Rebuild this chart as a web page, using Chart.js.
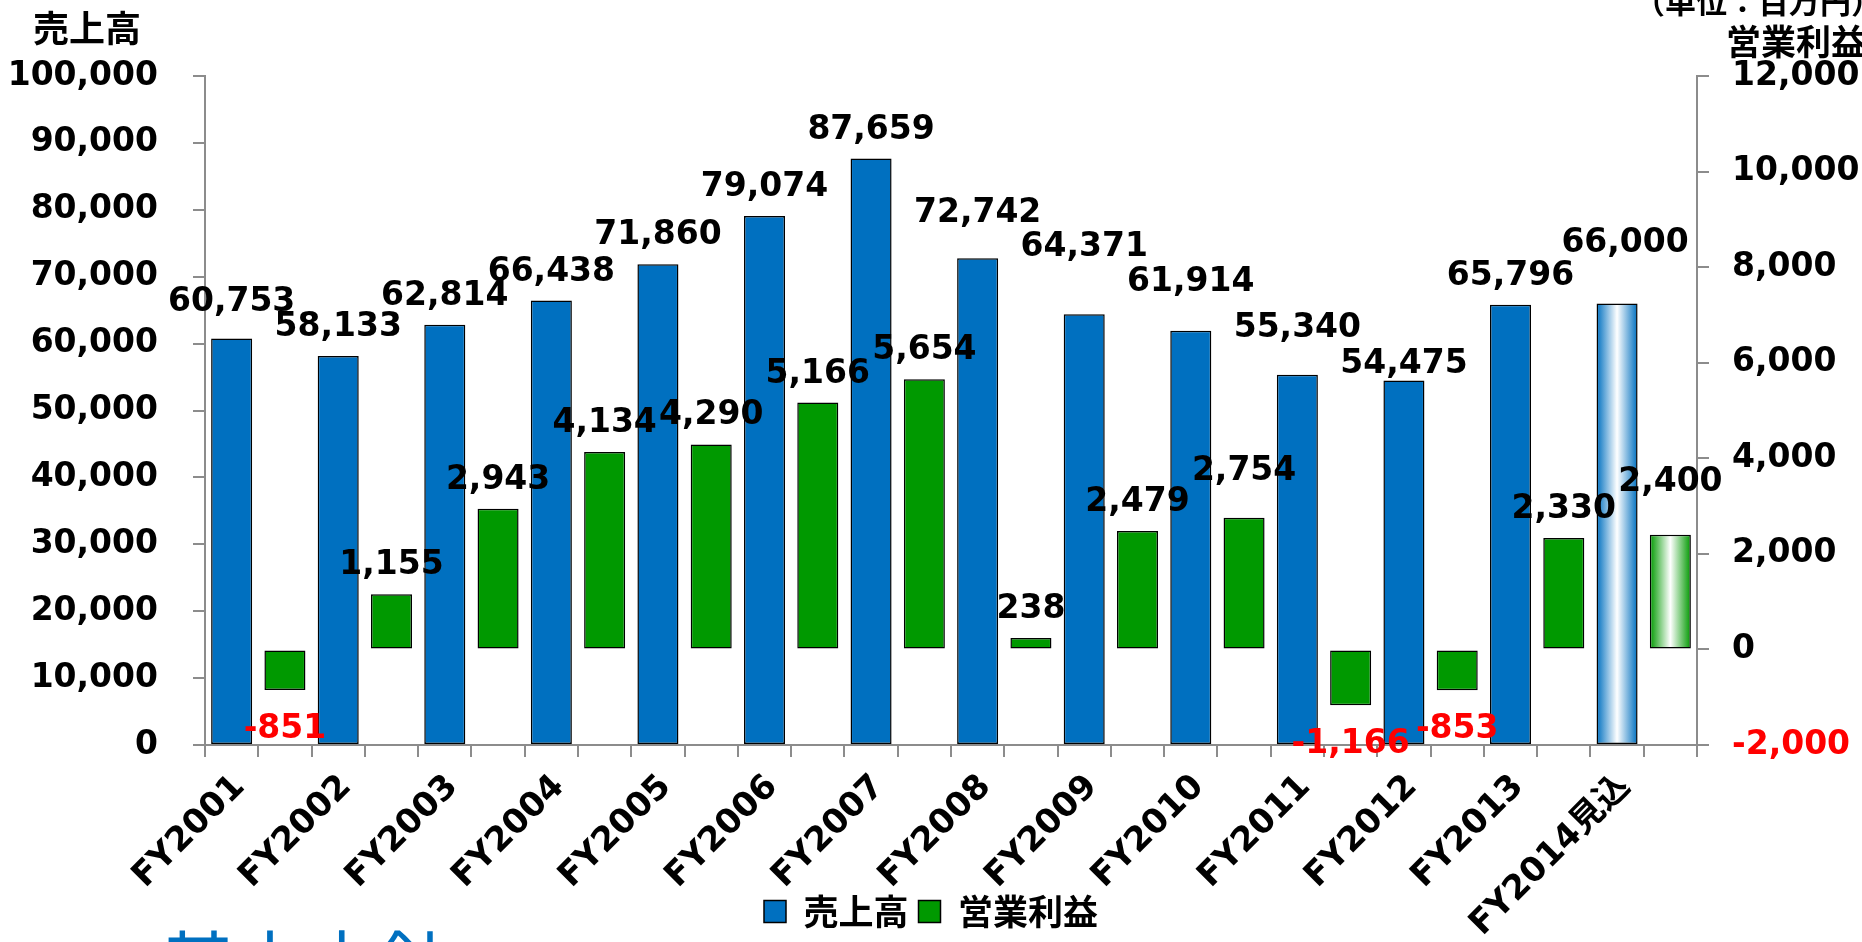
<!DOCTYPE html>
<html><head><meta charset="utf-8">
<script src="https://cdn.jsdelivr.net/npm/chart.js@4.4.1/dist/chart.umd.min.js"></script>
<style>
html,body{margin:0;padding:0;background:#fff;overflow:hidden;}
#wrap{position:relative;width:1862px;height:942px;}
canvas{display:block;}
</style></head><body>
<div id="wrap"><canvas id="c" width="1862" height="942"></canvas></div>
<script>
// ---- data ----
const categories = ['FY2001','FY2002','FY2003','FY2004','FY2005','FY2006','FY2007','FY2008','FY2009','FY2010','FY2011','FY2012','FY2013','FY2014見込'];
const sales = [60753,58133,62814,66438,71860,79074,87659,72742,64371,61914,55340,54475,65796,66000];
const operatingIncome = [-851,1155,2943,4134,4290,5166,5654,238,2479,2754,-1166,-853,2330,2400];
const salesAxis = {min:0, max:100000, step:10000};
const incomeAxis = {min:-2000, max:12000, step:2000};
const seriesNames = ['売上高','営業利益'];

// ---- style (label nudges, px) ----
const salesLabelShift = [[0,-8],[0,0],[0,0],[0,0],[0,0],[0,0],[0,0],[0,-16],[0,-38],[0,-20],[0,-18],[0,12],[0,0],[8,-31]];
const incomeLabelShift = [[0,0],[0,0],[0,0],[0,0],[0,0],[0,0],[0,0],[0,0],[0,0],[0,-18],[0,0],[0,0],[0,0],[0,-24]];
const FONT = '"DejaVu Sans", "Noto Sans CJK JP", sans-serif';
const JFONT = '"Noto Sans CJK JP", sans-serif';
const BLUE = '#0070C0', GREEN = '#009900', AXIS = '#8c8c8c';
const BAR_PCT = 0.77;

// build the two-slot-per-category layout
const slotLabels = [], salesSlots = [], incomeSlots = [];
categories.forEach((c,i)=>{
  slotLabels.push(c, '');
  salesSlots.push(sales[i], null);
  incomeSlots.push(null, operatingIncome[i]);
});
const isForecast = categories.map(c => c.indexOf('見込') >= 0);

function gradFill(ctx, base) {
  const si = ctx.dataIndex;
  if (ctx.type !== 'data' || !isForecast[Math.floor(si/2)]) return base;
  const chart = ctx.chart;
  if (!chart.chartArea) return base;
  const xs = chart.scales.x;
  const x = xs.getPixelForValue(si);
  const w = (xs.getPixelForValue(1) - xs.getPixelForValue(0)) * BAR_PCT;
  const g = chart.ctx.createLinearGradient(x - w/2, 0, x + w/2, 0);
  g.addColorStop(0, base);
  g.addColorStop(0.5, '#ffffff');
  g.addColorStop(1, base);
  return g;
}

const fmt = v => v.toLocaleString('en-US');

const valueLabels = {
  id: 'valueLabels',
  afterDatasetsDraw(chart) {
    const ctx = chart.ctx;
    ctx.save();
    ctx.font = 'bold 33px ' + FONT;
    ctx.textAlign = 'center';
    ctx.textBaseline = 'alphabetic';
    chart.data.datasets.forEach((ds, di) => {
      const meta = chart.getDatasetMeta(di);
      const shifts = di === 0 ? salesLabelShift : incomeLabelShift;
      meta.data.forEach((el, si) => {
        const v = ds.data[si];
        if (v === null || v === undefined) return;
        const [dx, dy] = shifts[Math.floor(si/2)];
        const y = v >= 0 ? el.y - 20 : el.y + 48;
        ctx.fillStyle = v < 0 ? '#FF0000' : '#000000';
        ctx.fillText(fmt(v), el.x + dx, y + dy);
      });
    });
    ctx.restore();
  }
};

const titles = {
  id: 'titles',
  afterDraw(chart) {
    const ctx = chart.ctx;
    ctx.save();
    ctx.fillStyle = '#000';
    ctx.textBaseline = 'middle';
    ctx.textAlign = 'left';
    ctx.font = 'bold 36px ' + JFONT;
    ctx.fillText('売上高', 33, 28);
    ctx.font = 'bold 31px ' + JFONT;
    ctx.textBaseline = 'alphabetic';
    ctx.fillText('（単位：百万円）', 1634, 13);
    ctx.font = 'bold 35px ' + JFONT;
    ctx.textBaseline = 'middle';
    ctx.fillText('営業利益', 1726, 42);
    ctx.fillStyle = BLUE;
    ctx.textBaseline = 'alphabetic';
    ctx.font = '72px ' + JFONT;
    ctx.fillText('基本方針', 162, 991);
    ctx.restore();
  }
};

new Chart(document.getElementById('c'), {
  type: 'bar',
  data: {
    labels: slotLabels,
    datasets: [
      { label: seriesNames[0], data: salesSlots, yAxisID: 'y',
        backgroundColor: c => gradFill(c, BLUE), borderColor: '#000', borderWidth: 1.5,
        borderSkipped: false },
      { label: seriesNames[1], data: incomeSlots, yAxisID: 'y1',
        backgroundColor: c => gradFill(c, GREEN), borderColor: '#000', borderWidth: 1.5,
        borderSkipped: false }
    ]
  },
  options: {
    responsive: false, animation: false, devicePixelRatio: 1,
    layout: { padding: { top: 76, left: 0, right: 0, bottom: 3 } },
    datasets: { bar: { grouped: false, barPercentage: BAR_PCT, categoryPercentage: 1 } },
    plugins: {
      legend: {
        position: 'bottom',
        labels: {
          boxWidth: 22, boxHeight: 22, padding: 10, color: '#000',
          font: { family: JFONT, size: 35, weight: 'bold' },
          generateLabels(chart) {
            return chart.data.datasets.map((ds, i) => ({
              text: ds.label, fillStyle: i === 0 ? BLUE : GREEN,
              strokeStyle: '#000', lineWidth: 1.5, datasetIndex: i, hidden: false
            }));
          }
        }
      },
      tooltip: { enabled: false }
    },
    scales: {
      x: {
        offset: true,
        grid: { offset: true, drawOnChartArea: false, drawTicks: true, tickLength: 12, color: AXIS, lineWidth: 2 },
        border: { color: AXIS, width: 2 },
        ticks: { autoSkip: false, maxRotation: 45, minRotation: 45, padding: 10, labelOffset: 8, color: '#000',
          font: { family: FONT, size: 34, weight: 'bold' } },
        afterFit(s) { s.height = 139; },
        afterUpdate(s) { s._computeLabelArea = () => null; }
      },
      y: {
        position: 'left', min: salesAxis.min, max: salesAxis.max,
        grid: { drawOnChartArea: false, drawTicks: true, tickLength: 12, color: AXIS, lineWidth: 2 },
        border: { color: AXIS, width: 2 },
        ticks: { stepSize: salesAxis.step, padding: 35, color: '#000',
          font: { family: FONT, size: 33, weight: 'bold' }, callback: v => fmt(v) },
        afterFit(s) { s.width = 205; }
      },
      y1: {
        position: 'right', min: incomeAxis.min, max: incomeAxis.max,
        grid: { drawOnChartArea: false, drawTicks: true, tickLength: 12, color: AXIS, lineWidth: 2 },
        border: { color: AXIS, width: 2 },
        ticks: { stepSize: incomeAxis.step, padding: 23,
          color: c => (c.tick && c.tick.value < 0) ? '#FF0000' : '#000',
          font: { family: FONT, size: 33, weight: 'bold' }, callback: v => fmt(v) },
        afterFit(s) { s.width = 165; }
      }
    }
  },
  plugins: [valueLabels, titles]
});
</script>
</body></html>
